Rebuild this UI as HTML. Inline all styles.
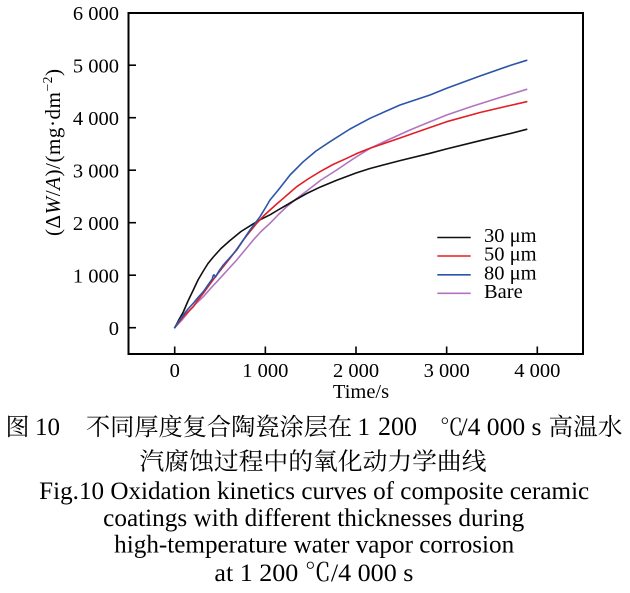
<!DOCTYPE html>
<html>
<head>
<meta charset="utf-8">
<style>
  html, body { margin:0; padding:0; background:#fff; }
  svg { display:block; }
  .lat { font-family: "Liberation Serif", "Noto Serif CJK SC", serif; }
  .cjk { font-family: "Liberation Serif", "Noto Serif CJK SC", "Noto Sans CJK SC", serif; }
</style>
</head>
<body>
<svg width="630" height="593" viewBox="0 0 630 593" xmlns="http://www.w3.org/2000/svg">
  <rect x="0" y="0" width="630" height="593" fill="#fff"/>

  <!-- curves -->
  <g fill="none" stroke-width="1.6" stroke-linejoin="round" stroke-linecap="round">
    <polyline stroke="#b274bf" points="174.7,327.7 182,320 190,310 196,303.5 203.3,296.7 211,288 220,278.3 228,269.5 236.7,260 245,250 253.3,240 261,231.5 270,223.3 278,215 286.7,206.7 296,199 306.7,191 321,180 336.7,170 353,159 370,148.3 390,139 410,130 430,121.7 446.7,115 470,107 500,97.5 526.7,89.3"/>
    <polyline stroke="#111" points="174.7,327.7 177,323.5 179,319.5 181,316 183.3,312 188,301 193.3,290 198,280 203.3,271 208,263.5 213.3,257 221,248.5 230,240.5 241,231.5 253.3,223.8 261,219.3 270,214.8 278,210 286.7,205 296,199.5 306.7,193.5 321,186.7 336.7,180.2 356,173 370,168.5 400,160.6 430,153.3 446.7,148.9 480,140.7 510,133.6 526.7,129.3"/>
    <polyline stroke="#e31e26" points="174.7,327.7 179,322 183.3,316.7 188,312 193.3,306.7 198,300 203.3,293.3 210,284 216.7,275 223,267 230,258.3 236.7,249.3 243.3,240 250,231.5 256.7,223.3 263,216.5 270,210 276.7,204 283.3,198.3 290,192.5 296.7,186.7 308,179 320,171.7 333,164.5 346.7,158.3 358,153 370,148.3 400,138 430,127.5 446.7,121.7 480,112.5 510,105.5 526.7,101.7"/>
    <polyline stroke="#2b55a8" points="174.7,327.7 179,321 183.3,315 188,309 193.3,303.3 198,297.5 203.3,291.7 208,285 212.3,279 213.2,275.5 214,274.8 215.5,277 219,271 223.3,265 230,257.5 236.7,250 243,240.5 250,230 255,223.5 260,216.7 265,208.5 270,200 278.3,190 290,175 303.3,161.7 316,151 330,141.7 350,129 370,118.3 400,105 430,95 446.7,88.3 480,76 510,65.5 526.7,60.3"/>
  </g>

  <!-- frame -->
  <rect x="128.5" y="13" width="454.5" height="341" fill="none" stroke="#000" stroke-width="2"/>

  <!-- ticks -->
  <g stroke="#000" stroke-width="1.6">
    <line x1="128.5" y1="327.7" x2="136" y2="327.7"/>
    <line x1="128.5" y1="275.2" x2="136" y2="275.2"/>
    <line x1="128.5" y1="222.7" x2="136" y2="222.7"/>
    <line x1="128.5" y1="170.2" x2="136" y2="170.2"/>
    <line x1="128.5" y1="117.7" x2="136" y2="117.7"/>
    <line x1="128.5" y1="65.2" x2="136" y2="65.2"/>
    <line x1="174.7" y1="354" x2="174.7" y2="346.5"/>
    <line x1="265.35" y1="354" x2="265.35" y2="346.5"/>
    <line x1="356" y1="354" x2="356" y2="346.5"/>
    <line x1="446.65" y1="354" x2="446.65" y2="346.5"/>
    <line x1="537.3" y1="354" x2="537.3" y2="346.5"/>
  </g>

  <!-- y tick labels -->
  <g class="lat" font-size="20.5" text-anchor="end" fill="#000">
    <text x="119" y="20">6 000</text>
    <text x="119" y="72.5">5 000</text>
    <text x="119" y="125">4 000</text>
    <text x="119" y="177.5">3 000</text>
    <text x="119" y="230">2 000</text>
    <text x="119" y="282.5">1 000</text>
    <text x="119" y="335">0</text>
  </g>

  <!-- x tick labels -->
  <g class="lat" font-size="20.5" text-anchor="middle" fill="#000">
    <text x="174.7" y="377">0</text>
    <text x="265.35" y="377">1 000</text>
    <text x="356" y="377">2 000</text>
    <text x="446.65" y="377">3 000</text>
    <text x="537.3" y="377">4 000</text>
    <text x="361" y="398">Time/s</text>
  </g>

  <!-- y axis label -->
  <text class="lat" font-size="21" fill="#000" text-anchor="middle" transform="translate(60,152.5) rotate(-90)" textLength="167" lengthAdjust="spacing">(Δ<tspan font-style="italic">W</tspan>/<tspan font-style="italic">A</tspan>)/(mg·dm<tspan font-size="13.5" dy="-8">−2</tspan><tspan dy="8">)</tspan></text>

  <!-- legend -->
  <g stroke-width="1.6">
    <line x1="437.3" y1="237.5" x2="470.7" y2="237.5" stroke="#111"/>
    <line x1="437.3" y1="256" x2="470.7" y2="256" stroke="#e31e26"/>
    <line x1="437.3" y1="274.8" x2="470.7" y2="274.8" stroke="#2b55a8"/>
    <line x1="437.3" y1="293.3" x2="470.7" y2="293.3" stroke="#b274bf"/>
  </g>
  <g class="lat" font-size="20.5" fill="#000">
    <text x="484" y="242">30 μm</text>
    <text x="484" y="260.5">50 μm</text>
    <text x="484" y="279.3">80 μm</text>
    <text x="484" y="298">Bare</text>
  </g>

  <!-- caption -->
  <g class="cjk" fill="#000">
    <text x="5.5" y="435" font-size="24">图</text>
    <text x="35" y="435" font-size="25" textLength="25" lengthAdjust="spacingAndGlyphs">10</text>
    <text x="86" y="435" font-size="24" textLength="266" lengthAdjust="spacingAndGlyphs">不同厚度复合陶瓷涂层在</text>
    <text x="357.5" y="435" font-size="25">1</text>
    <text x="378" y="435" font-size="26">200</text>
    <text x="440" y="435" font-size="23">℃</text>
    <text x="460.5" y="435" font-size="25" textLength="81" lengthAdjust="spacingAndGlyphs">/4 000 s</text>
    <text x="548.5" y="435" font-size="24" textLength="74" lengthAdjust="spacingAndGlyphs">高温水</text>
    <text x="139.5" y="469.5" font-size="24" textLength="347" lengthAdjust="spacingAndGlyphs">汽腐蚀过程中的氧化动力学曲线</text>
  </g>
  <g class="lat" fill="#000" font-size="25" text-anchor="middle">
    <text x="314.2" y="499" textLength="550" lengthAdjust="spacingAndGlyphs">Fig.10 Oxidation kinetics curves of composite ceramic</text>
    <text x="313.7" y="526" textLength="421" lengthAdjust="spacingAndGlyphs">coatings with different thicknesses during</text>
    <text x="314.2" y="552.5" textLength="400" lengthAdjust="spacingAndGlyphs">high-temperature water vapor corrosion</text>
    <text x="313.9" y="581" textLength="199" lengthAdjust="spacingAndGlyphs">at 1 200  ℃/4 000 s</text>
  </g>
</svg>
</body>
</html>
